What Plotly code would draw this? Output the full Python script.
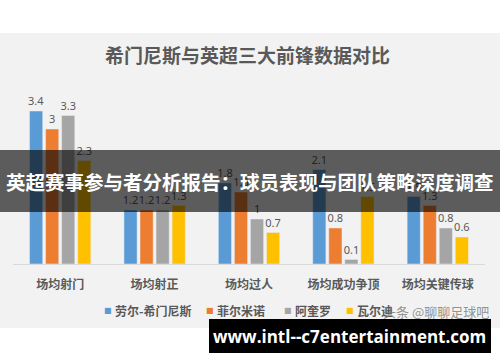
import plotly.graph_objects as go

# ---- data ----
categories = ["场均射门", "场均射正", "场均过人", "场均成功争顶", "场均关键传球"]
series_names = ["劳尔-希门尼斯", "菲尔米诺", "阿奎罗", "瓦尔迪"]
jimenez = [3.4, 1.2, 1.8, 2.1, 1.5]
firmino = [3.0, 1.2, 1.6, 0.8, 1.3]
aguero = [3.3, 1.2, 1.0, 0.1, 0.8]
vardy = [2.3, 1.3, 0.7, 1.5, 0.6]
series_values = [jimenez, firmino, aguero, vardy]
colors = ["#5b9bd5", "#ed7d31", "#a5a5a5", "#ffc000"]

title_text = "希门尼斯与英超三大前锋数据对比"
banner_text = "英超赛事参与者分析报告：球员表现与团队策略深度调查"
url_text = "www.intl--c7entertainment.com"
watermark_text = "头条 @聊聊足球吧"

W, H = 500, 362
ML, MR, MT, MB = 13, 15, 84, 98
PW = W - ML - MR
PH = H - MT - MB


def px(x):
    return (x - ML) / PW


def py(y):
    return (H - MB - y) / PH


CJK = "Noto Sans CJK SC"
GRAY = "#595959"

fig = go.Figure()
for name, vals, col in zip(series_names, series_values, colors):
    fig.add_trace(go.Bar(
        x=categories, y=vals, name=name, marker_color=col,
        text=[f"{v:g}" for v in vals], textposition="outside",
        constraintext="none", cliponaxis=False,
        textfont=dict(family="Noto Sans", size=11, color=GRAY),
        showlegend=False, hoverinfo="skip",
    ))

shapes = [
    dict(type="rect", xref="paper", yref="paper", x0=px(0), x1=px(500),
         y0=py(328), y1=py(33), fillcolor="#f2f2f2", line_width=0, layer="below"),
    dict(type="rect", xref="paper", yref="paper", x0=px(0), x1=px(500),
         y0=py(212), y1=py(150), fillcolor="rgba(0,0,0,0.62)", line_width=0, layer="above"),
    dict(type="rect", xref="paper", yref="paper", x0=px(209), x1=px(491),
         y0=py(353), y1=py(319), fillcolor="#000000", line_width=0, layer="above"),
]


def ann(text, x, y, font, xanchor="center"):
    return dict(text=text, x=px(x), y=py(y), xref="paper", yref="paper",
                showarrow=False, xanchor=xanchor, yanchor="middle", font=font)


annotations = [
    ann(title_text, 247, 55, dict(family=CJK, size=19, color=GRAY, weight="bold")),
    ann(banner_text, 250, 181, dict(family=CJK, size=19.5, color="white", weight="bold")),
    ann(url_text, 349, 336, dict(family="Open Sans", size=17, color="white", weight="bold")),
]

legend_x = [108, 210, 288, 350]
for lx, name, col in zip(legend_x, series_names, colors):
    annotations.append(ann("■", lx, 310, dict(family="DejaVu Sans", size=8, color=col)))
    annotations.append(ann(name, lx + 5, 310,
                           dict(family=CJK, size=12, color=GRAY, weight="bold"), xanchor="left"))

annotations.append(ann(watermark_text, 381, 311,
                       dict(family=CJK, size=13, color="rgba(120,120,120,0.8)"), xanchor="left"))

fig.update_layout(
    width=W, height=H,
    margin=dict(l=ML, r=MR, t=MT, b=MB, pad=0),
    paper_bgcolor="white", plot_bgcolor="rgba(0,0,0,0)",
    barmode="group", bargap=0.32, bargroupgap=0.18,
    shapes=shapes, annotations=annotations,
    xaxis=dict(showline=True, linecolor="#d9d9d9", linewidth=1, ticks="",
               ticklabelstandoff=10,
               tickfont=dict(family=CJK, size=12, color=GRAY, weight="bold"),
               showgrid=False, zeroline=False, fixedrange=True),
    yaxis=dict(range=[0, 4], visible=False, showgrid=False, zeroline=False, fixedrange=True),
    showlegend=False,
)

fig.write_html("out.html", config={"displayModeBar": False},
               post_script="document.body.style.margin='0';")
